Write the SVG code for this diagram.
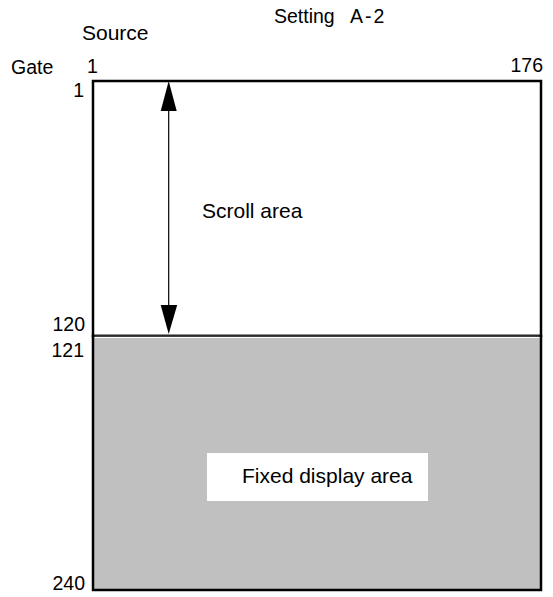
<svg xmlns="http://www.w3.org/2000/svg" width="553" height="597" viewBox="0 0 553 597">
<style>
text{font-family:"Liberation Sans",Arial,sans-serif;font-size:19.5px;fill:#000}
.r{text-anchor:end}
.big{font-size:21px}
</style>
<rect width="553" height="597" fill="#fff"/>
<g id="labels">
<text x="274" y="23" font-size="23">Setting</text>
<text x="350" y="23" font-size="20" letter-spacing="2">A-2</text>
<text x="82" y="40" class="big">Source</text>
<text x="11" y="74" font-size="20.5">Gate</text>
<text x="87" y="73">1</text>
<text x="543" y="72" class="r">176</text>
<text x="84" y="97" class="r">1</text>
<text x="85" y="331" class="r">120</text>
<text x="84" y="357" class="r">121</text>
<text x="85" y="590" class="r">240</text>
</g>
<g id="scroll-area">
<rect x="93" y="81" width="448" height="255" fill="#fff" stroke="#000" stroke-width="2.5"/>
<text x="202" y="218" class="big">Scroll area</text>
</g>
<g id="fixed-area">
<rect x="93" y="336" width="448" height="254" fill="#c0c0c0" stroke="#000" stroke-width="2.5"/>
<line x1="94.5" y1="336.2" x2="539.5" y2="336.2" stroke="#555" stroke-width="1.2"/>
<line x1="94.5" y1="337.5" x2="539.5" y2="337.5" stroke="#fff" stroke-width="1"/>
<rect x="207" y="453" width="221" height="48" fill="#fff"/>
<text x="242" y="483" class="big">Fixed display area</text>
</g>
<g id="connectors">
<line x1="168.7" y1="105" x2="168.7" y2="310" stroke="#000" stroke-width="1.2"/>
<polygon points="168.7,81 160.7,111 176.7,111" fill="#000"/>
<polygon points="168.7,334 160.7,305 177.2,305" fill="#000"/>
</g>
</svg>
